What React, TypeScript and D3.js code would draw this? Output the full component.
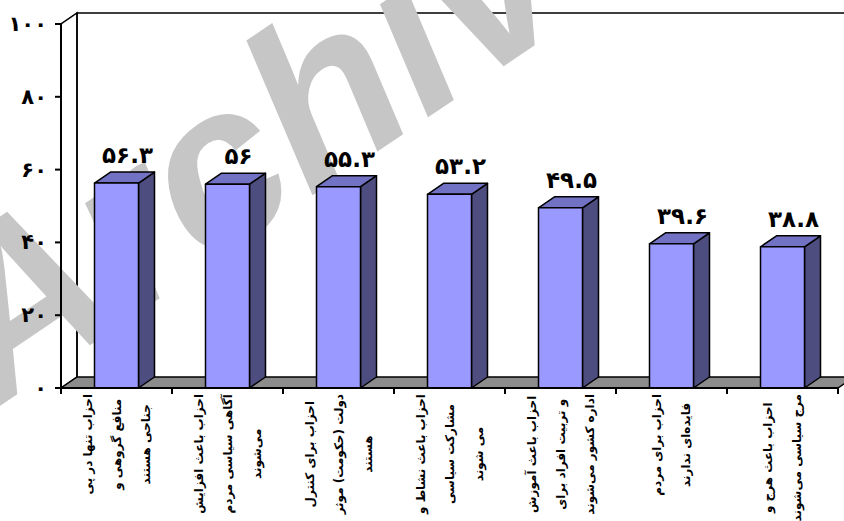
import React, { useEffect, useRef } from "react";
import * as d3 from "d3";

// Survey results: opinions about political parties (percent)
const categories: string[][] = [
  ["احزاب تنها در پی", "منافع گروهی و", "جناحی هستند"],
  ["احزاب باعث افزایش", "آگاهی سیاسی مردم", "می‌شوند"],
  ["احزاب برای کنترل", "دولت (حکومت) موثر", "هستند"],
  ["احزاب باعث نشاط و", "مشارکت سیاسی", "می شوند"],
  ["احزاب باعث آموزش", "و تربیت افراد برای", "اداره کشور می‌شوند"],
  ["احزاب برای مردم", "فایده‌ای ندارند"],
  ["احزاب باعث هرج و", "مرج سیاسی می‌شوند"],
];
const values: number[] = [56.3, 56, 55.3, 53.2, 49.5, 39.6, 38.8];
const yTicks: number[] = [0, 20, 40, 60, 80, 100];

const W = 844;
const H = 521;

const persianDigits = "۰۱۲۳۴۵۶۷۸۹";
const toPersian = (s: string) => s.replace(/[0-9]/g, (d) => persianDigits[+d]);

export default function App() {
  const ref = useRef<SVGSVGElement | null>(null);

  useEffect(() => {
    const svg = d3.select(ref.current);
    svg.selectAll("*").remove();

    const left = 61;
    const right = 838;
    const floorY = 388;
    const dx = 16;
    const dy = 11;
    const barW = 44;

    const y = d3.scaleLinear().domain([0, 100]).range([floorY, 24]);
    const x = d3
      .scaleBand<number>()
      .domain(d3.range(values.length))
      .range([left, right])
      .paddingInner(0)
      .paddingOuter(0);

    svg.append("rect").attr("width", W).attr("height", H).attr("fill", "#ffffff");

    const top = y(100);

    // left side wall
    svg
      .append("path")
      .attr(
        "d",
        `M${left},${floorY}L${left},${top}L${left + dx},${top - dy}L${left + dx},${floorY - dy}Z`
      )
      .attr("fill", "#ffffff")
      .attr("stroke", "#000")
      .attr("stroke-width", 1.5);

    // back wall
    svg
      .append("path")
      .attr("d", `M${left + dx},${floorY - dy}L${left + dx},${top - dy}L${right + dx},${top - dy}`)
      .attr("fill", "none")
      .attr("stroke", "#000")
      .attr("stroke-width", 1.5);

    // floor
    svg
      .append("path")
      .attr(
        "d",
        `M${left},${floorY}L${right},${floorY}L${right + dx},${floorY - dy}L${left + dx},${floorY - dy}Z`
      )
      .attr("fill", "#8c8c8c")
      .attr("stroke", "#000")
      .attr("stroke-width", 1.5);

    // watermark
    svg
      .append("text")
      .attr("transform", "translate(-6,410) rotate(-34)")
      .attr("font-family", "Liberation Sans")
      .attr("font-style", "italic")
      .attr("font-weight", "bold")
      .attr("font-size", 228)
      .attr("fill", "#c6c6c6")
      .text("Archive");

    // bars
    const g = svg.append("g");
    values.forEach((v, i) => {
      const x0 = (x(i) as number) + (x.bandwidth() - barW) / 2;
      const x1 = x0 + barW;
      const yt = y(v);
      const bar = g.append("g").attr("stroke", "#000").attr("stroke-width", 1.5).attr("stroke-linejoin", "round");
      bar
        .append("path")
        .attr("d", `M${x1},${floorY}L${x1 + dx},${floorY - dy}L${x1 + dx},${yt - dy}L${x1},${yt}Z`)
        .attr("fill", "#4d4d80");
      bar
        .append("path")
        .attr("d", `M${x0},${yt}L${x0 + dx},${yt - dy}L${x1 + dx},${yt - dy}L${x1},${yt}Z`)
        .attr("fill", "#7272c4");
      bar
        .append("rect")
        .attr("x", x0)
        .attr("y", yt)
        .attr("width", barW)
        .attr("height", floorY - yt)
        .attr("fill", "#9999ff");

      svg
        .append("text")
        .attr("x", x0 + barW / 2 + 11)
        .attr("y", yt - dy - 9)
        .attr("text-anchor", "middle")
        .attr("font-family", "DejaVu Sans")
        .attr("font-weight", "bold")
        .attr("font-size", 23)
        .attr("fill", "#000")
        .text(toPersian(String(v)));
    });

    // value axis
    svg
      .append("line")
      .attr("x1", left)
      .attr("x2", left)
      .attr("y1", top)
      .attr("y2", floorY)
      .attr("stroke", "#000")
      .attr("stroke-width", 2);
    yTicks.forEach((t) => {
      svg
        .append("line")
        .attr("x1", left - 6)
        .attr("x2", left)
        .attr("y1", y(t))
        .attr("y2", y(t))
        .attr("stroke", "#000")
        .attr("stroke-width", 2);
      svg
        .append("text")
        .attr("x", 47)
        .attr("y", y(t) + 7)
        .attr("text-anchor", "end")
        .attr("font-family", "DejaVu Sans")
        .attr("font-weight", "bold")
        .attr("font-size", 21)
        .attr("fill", "#000")
        .text(toPersian(String(t)));
    });

    // category axis
    svg
      .append("line")
      .attr("x1", left)
      .attr("x2", right)
      .attr("y1", floorY)
      .attr("y2", floorY)
      .attr("stroke", "#000")
      .attr("stroke-width", 2);
    d3.range(values.length + 1).forEach((i) => {
      const tx = left + i * x.bandwidth();
      svg
        .append("line")
        .attr("x1", tx)
        .attr("x2", tx)
        .attr("y1", floorY)
        .attr("y2", floorY + 6)
        .attr("stroke", "#000")
        .attr("stroke-width", 2);
    });

    // rotated category labels, each line centred within its block
    const lineGap = 29;
    const blockTop = 394;
    categories.forEach((lines, i) => {
      const cx = (x(i) as number) + x.bandwidth() / 2;
      const texts = lines.map((line) =>
        svg
          .append("text")
          .attr("text-anchor", "middle")
          .attr("direction", "rtl")
          .attr("font-family", "DejaVu Sans")
          .attr("font-weight", "bold")
          .attr("font-size", 12)
          .attr("fill", "#000")
          .text(line)
      );
      const widths = texts.map((t) => (t.node() as SVGTextElement).getComputedTextLength());
      const maxW = d3.max(widths) ?? 0;
      const cy = blockTop + maxW / 2;
      texts.forEach((t, j) => {
        const lx = cx + (j - (lines.length - 1) / 2) * lineGap + 4;
        t.attr("transform", `translate(${lx},${cy}) rotate(-90)`);
      });
    });
  }, []);

  return (
    <svg
      ref={ref}
      width={W}
      height={H}
      style={{ position: "absolute", left: 0, top: 0, display: "block" }}
    />
  );
}
